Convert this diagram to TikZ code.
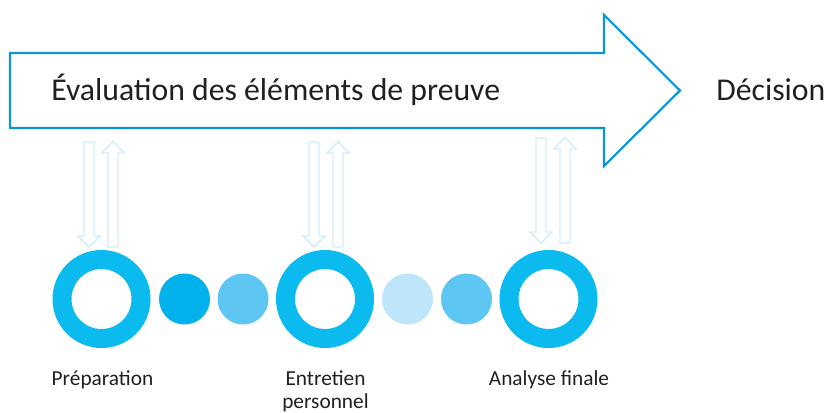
\documentclass[tikz,border=0pt]{standalone}
\usepackage{fontspec}
\setmainfont{Carlito}
\usepackage{tikz}

\definecolor{arrowblue}{RGB}{10,150,212}
\definecolor{ringcyan}{RGB}{11,187,239}
\definecolor{dotdeep}{RGB}{0,177,235}
\definecolor{dotmid}{RGB}{93,198,242}
\definecolor{dotpale}{RGB}{190,229,250}
\definecolor{hollowblue}{RGB}{211,236,251}
\definecolor{txtgray}{RGB}{35,31,32}

\tikzset{
  ring/.style={circle,draw=ringcyan,fill=white,line width=14.25pt,minimum size=59.25pt,inner sep=0pt},
  dot/.style={circle,minimum size=38.25pt,inner sep=0pt},
  hollow/.style={draw=hollowblue,line width=1.1pt,fill=white},
  bigtext/.style={anchor=west,inner sep=0.75pt,text=txtgray,font=\fontsize{23.8}{28}\selectfont},
  steplabel/.style={anchor=base,inner sep=0.75pt,text=txtgray,align=center,font=\fontsize{16}{17.25}\selectfont}
}

\begin{document}
\begin{tikzpicture}[x=0.75pt,y=0.75pt,yscale=-1,xscale=1]
\useasboundingbox (0,0) rectangle (827,412);

%Shape: Big Arrow [id:evaluation]
\draw [color=arrowblue,line width=1.6pt,line join=miter,fill=white] (10,53) -- (604,53) -- (604,15) -- (680,90.5) -- (604,166) -- (604,128) -- (10,128) -- cycle ;

%Shape: Hollow Arrows [id:pairs]
\foreach \cx/\dy in {101/0,326/0,553/-4} {
  % down
  \draw [hollow] (\cx-17,142+\dy) -- (\cx-7,142+\dy) -- (\cx-7,236+\dy) -- (\cx-1,236+\dy) -- (\cx-12,247+\dy) -- (\cx-23,236+\dy) -- (\cx-17,236+\dy) -- cycle ;
  % up
  \draw [hollow] (\cx+7,247+\dy) -- (\cx+17,247+\dy) -- (\cx+17,153+\dy) -- (\cx+23,153+\dy) -- (\cx+12,141.5+\dy) -- (\cx+1,153+\dy) -- (\cx+7,153+\dy) -- cycle ;
}

%Shape: Circles [id:steps]
\node [ring] (prep) at (101.5,299) {};
\node [dot,fill=dotdeep] (d1) at (184.5,299) {};
\node [dot,fill=dotmid] (d2) at (243,299) {};
\node [ring] (entr) at (325,299) {};
\node [dot,fill=dotpale] (d3) at (407.5,299) {};
\node [dot,fill=dotmid] (d4) at (466.5,299) {};
\node [ring] (anal) at (548.5,299) {};

% Text Node
\node [bigtext] (evaltxt) at (50,90) {Évaluation des éléments de preuve};
% Text Node
\node [bigtext] (dectxt) at (715,90) {Décision};
% Text Node
\node [steplabel] (preptxt) at (102.5,385) {Préparation};
% Text Node
\node [steplabel] (entrtxt) at (325.5,408) {Entretien\\personnel};
% Text Node
\node [steplabel] (analtxt) at (549,385) {Analyse finale};

\end{tikzpicture}
\end{document}
